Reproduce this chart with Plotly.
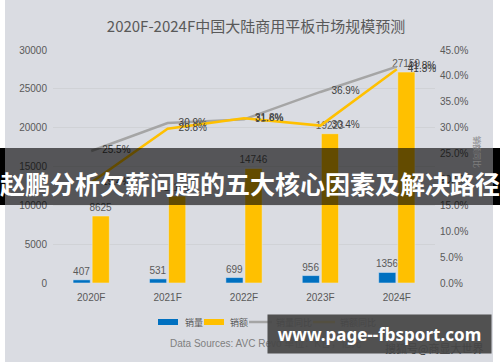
import plotly.graph_objects as go

categories = ["2020F", "2021F", "2022F", "2023F", "2024F"]
sales_volume = [407, 531, 699, 956, 1356]          # 销量 (K台)
sales_amount = [8625, 11190, 14746, 19223, 27159]  # 销额
volume_yoy = [25.5, 30.9, 31.6, 36.9, 41.8]        # 销量同比 (%)
amount_yoy = [19.4, 29.8, 31.8, 30.4, 41.3]        # 销额同比 (%)
left_ticks = [0, 5000, 10000, 15000, 20000, 25000, 30000]
right_ticks = [0, 5, 10, 15, 20, 25, 30, 35, 40, 45]
series_names = ["销量", "销额", "销量同比", "销额同比"]

W, H = 500, 362
L, R, T, B = 53, 435, 50, 283
PW, PH = R - L, B - T


def px(x):
    return (x - L) / PW


def py(y):
    return (B - y) / PH


FONT = "Liberation Sans, Arial, Noto Sans CJK SC, sans-serif"
CJK = "Noto Sans CJK SC, Liberation Sans, sans-serif"
BG = "#DADCE2"
C_BLUE, C_GOLD, C_GRAY = "#0070C0", "#FFC000", "#A5A5A5"

fig = go.Figure()
fig.add_trace(go.Bar(
    x=categories, y=sales_volume, name=series_names[0], marker_color=C_BLUE,
    text=[str(v) for v in sales_volume], textposition="outside", constraintext="none",
    textfont=dict(size=10, color="#595959"), cliponaxis=False, showlegend=False,
))
fig.add_trace(go.Bar(
    x=categories, y=sales_amount, name=series_names[1], marker_color=C_GOLD,
    text=[str(v) for v in sales_amount], textposition="outside", constraintext="none",
    textfont=dict(size=10, color="#595959"), cliponaxis=False, showlegend=False,
))
fig.add_trace(go.Scatter(
    x=categories, y=volume_yoy, name=series_names[2], yaxis="y2",
    mode="lines+markers+text", line=dict(color=C_GRAY, width=2.5),
    marker=dict(size=16, color="rgba(0,0,0,0)"),
    text=[f"{v:.1f}%" for v in volume_yoy], textposition="middle right",
    textfont=dict(size=10, color="#404040"), cliponaxis=False, showlegend=False,
))
fig.add_trace(go.Scatter(
    x=categories, y=amount_yoy, name=series_names[3], yaxis="y2",
    mode="lines+markers+text", line=dict(color=C_GOLD, width=2.5),
    marker=dict(size=16, color="rgba(0,0,0,0)"),
    text=[f"{v:.1f}%" for v in amount_yoy], textposition="middle right",
    textfont=dict(size=10, color="#404040"), cliponaxis=False, showlegend=False,
))

shapes = [
    dict(type="rect", xref="paper", yref="paper", x0=px(0), x1=px(5), y0=py(H), y1=py(0),
         fillcolor="white", line_width=0, layer="above"),
    dict(type="rect", xref="paper", yref="paper", x0=px(493), x1=px(W), y0=py(H), y1=py(0),
         fillcolor="white", line_width=0, layer="above"),
    # banner
    dict(type="rect", xref="paper", yref="paper", x0=px(0), x1=px(W), y0=py(205), y1=py(148),
         fillcolor="rgba(0,0,0,0.61)", line_width=0, layer="above"),
    dict(type="rect", xref="paper", yref="paper", x0=px(0), x1=px(5), y0=py(205), y1=py(148),
         fillcolor="black", line_width=0, layer="above"),
    dict(type="rect", xref="paper", yref="paper", x0=px(493), x1=px(W), y0=py(205), y1=py(148),
         fillcolor="black", line_width=0, layer="above"),
    # manual legend swatches
    dict(type="rect", xref="paper", yref="paper", x0=px(158), x1=px(178), y0=py(325), y1=py(319),
         fillcolor=C_BLUE, line_width=0, layer="above"),
    dict(type="rect", xref="paper", yref="paper", x0=px(204), x1=px(224), y0=py(325), y1=py(319),
         fillcolor=C_GOLD, line_width=0, layer="above"),
    dict(type="line", xref="paper", yref="paper", x0=px(249), x1=px(272), y0=py(322), y1=py(322),
         line=dict(color=C_GRAY, width=2.5), layer="above"),
    dict(type="line", xref="paper", yref="paper", x0=px(313), x1=px(335), y0=py(322), y1=py(322),
         line=dict(color=C_GOLD, width=2.5), layer="above"),
]

annotations = [
    dict(text=series_names[0], x=px(183), y=py(322), xref="paper", yref="paper", xanchor="left",
         yanchor="middle", showarrow=False, font=dict(size=9, color="#595959", family=CJK)),
    dict(text=series_names[1], x=px(228), y=py(322), xref="paper", yref="paper", xanchor="left",
         yanchor="middle", showarrow=False, font=dict(size=9, color="#595959", family=CJK)),
    dict(text=series_names[2], x=px(274), y=py(322), xref="paper", yref="paper", xanchor="left",
         yanchor="middle", showarrow=False, font=dict(size=9, color="#595959", family=CJK)),
    dict(text=series_names[3], x=px(338), y=py(322), xref="paper", yref="paper", xanchor="left",
         yanchor="middle", showarrow=False, font=dict(size=9, color="#595959", family=CJK)),
    dict(text="Data Sources: AVC Revo 单位：K台，亿元", x=px(168), y=py(343), xref="paper", yref="paper",
         xanchor="left", yanchor="middle", showarrow=False, font=dict(size=10, color="#7F7F7F", family=FONT)),
    dict(text="销额同比", x=px(478), y=py(152), xref="paper", yref="paper", textangle=90,
         xanchor="center", yanchor="middle", showarrow=False, font=dict(size=8, color="#7F7F7F", family=CJK)),
    dict(text="赵鹏分析欠薪问题的五大核心因素及解决路径", x=px(250), y=py(183), xref="paper", yref="paper",
         xanchor="center", yanchor="middle", showarrow=False,
         font=dict(size=25, color="white", family=CJK, weight="bold")),
    dict(text="搜狐号@商显大世界", x=px(434), y=py(348), xref="paper", yref="paper",
         xanchor="center", yanchor="middle", showarrow=False, font=dict(size=11, color="#333333", family=CJK)),
    dict(text="<b>www.page--fbsport.com</b>", x=px(379.5), y=py(334), xref="paper", yref="paper",
         xanchor="center", yanchor="middle", showarrow=False, width=215, height=30, borderpad=4,
         bgcolor="rgba(70,70,70,0.93)", font=dict(size=17, color="white", family="Noto Sans, Open Sans, sans-serif")),
]

fig.update_layout(
    width=W, height=H,
    margin=dict(l=L, r=W - R, t=T, b=H - B),
    paper_bgcolor=BG, plot_bgcolor=BG,
    barmode="group", bargap=0.5, bargroupgap=0.1,
    showlegend=False,
    title=dict(text="2020F-2024F中国大陆商用平板市场规模预测", x=256 / W, xanchor="center",
               y=1 - 27 / H, yanchor="middle", font=dict(size=15, color="#595959", family=CJK)),
    font=dict(family=FONT, color="#595959", size=10),
    xaxis=dict(showgrid=False, showline=False, ticks="", ticklabelstandoff=7,
               tickfont=dict(size=10, color="#595959")),
    yaxis=dict(range=[0, 30000], tickvals=left_ticks, tickformat="d", showgrid=True,
               gridcolor="#D0D2D6", gridwidth=1, zeroline=False, showline=False, ticklabelstandoff=5,
               tickfont=dict(size=10, color="#595959")),
    yaxis2=dict(range=[0, 45], tickvals=right_ticks, ticktext=[f"{v:.1f}%" for v in right_ticks],
                overlaying="y", side="right", showgrid=False, zeroline=False, showline=False,
                ticklabelstandoff=4, tickfont=dict(size=10, color="#595959")),
    shapes=shapes,
    annotations=annotations,
)

fig.write_html("out.html", config={"displayModeBar": False},
               post_script="document.body.style.margin='0';")
